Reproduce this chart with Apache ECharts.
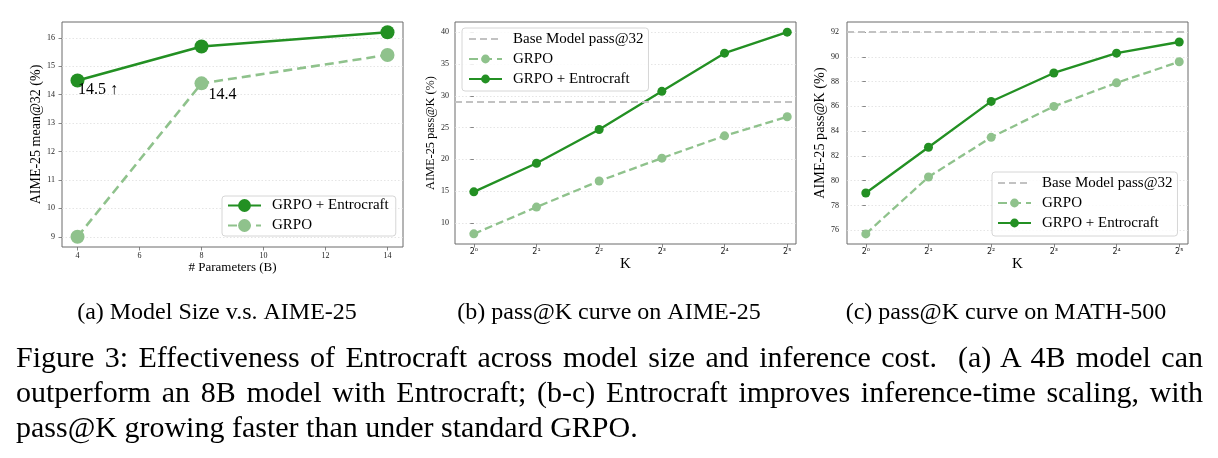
<!DOCTYPE html>
<html>
<head>
<meta charset="utf-8">
<script src="https://cdn.jsdelivr.net/npm/echarts@6/dist/echarts.min.js"></script>
<style>
  html, body { margin: 0; padding: 0; background: #fff; }
  #wrap { position: relative; width: 1218px; height: 458px; overflow: hidden; }
  #chart { position: absolute; left: 0; top: 0; width: 1218px; height: 458px; }
  .cap {
    position: absolute;
    left: 16px;
    width: 1187px;
    font-family: 'Liberation Serif', 'Times New Roman', serif;
    font-size: 30px;
    line-height: 35px;
    color: #000;
  }
  .just { text-align: justify; text-align-last: justify; }
</style>
</head>
<body>
<div id="wrap">
  <div id="chart"></div>
  <div class="cap just" style="top:339px">Figure 3: Effectiveness of Entrocraft across model size and inference cost.&nbsp; (a) A 4B model can</div>
  <div class="cap just" style="top:374px">outperform an 8B model with Entrocraft; (b-c) Entrocraft improves inference-time scaling, with</div>
  <div class="cap" style="top:409px">pass@K growing faster than under standard GRPO.</div>
</div>
<script>
// (a) 模型规模
const paramSizes = [4, 8, 14];
const sizeEntrocraft = [14.5, 15.7, 16.2];
const sizeGrpo = [9.0, 14.4, 15.4];
const sizeEntrocraftNotes = ['14.5 ↑', '', ''];
const sizeGrpoNotes = ['', '14.4', ''];
const sizeXTicks = [4, 6, 8, 10, 12, 14];
const sizeYTicks = [9, 10, 11, 12, 13, 14, 15, 16];

// (b)(c) pass@K
const kExponents = [0, 1, 2, 3, 4, 5];
const kTickLabels = ['2⁰', '2¹', '2²', '2³', '2⁴', '2⁵'];
const aimeEntrocraft = [14.9, 19.4, 24.7, 30.7, 36.7, 40.0];
const aimeGrpo = [8.3, 12.5, 16.6, 20.2, 23.7, 26.7];
const aimeBase = 29.0;
const aimeYTicks = [10, 15, 20, 25, 30, 35, 40];
const mathEntrocraft = [79.0, 82.7, 86.4, 88.7, 90.3, 91.2];
const mathGrpo = [75.7, 80.3, 83.5, 86.0, 87.9, 89.6];
const mathBase = 92.0;
const mathYTicks = [76, 78, 80, 82, 84, 86, 88, 90, 92];

const subCaptions = ['(a) Model Size v.s. AIME-25', '(b) pass@K curve on AIME-25', '(c) pass@K curve on MATH-500'];

const DARK = '#239023';
const LIGHT = '#8fc28c';
const BASE = '#c2c2c2';
const SERIF = "'Liberation Serif', 'Times New Roman', serif";
const FRAME = '#6a6a6a';

const chart = echarts.init(document.getElementById('chart'));

function pairs(xs, ys, notes, labelPos) {
  return xs.map((x, i) => {
    const item = { value: [x, ys[i]] };
    if (notes && notes[i]) {
      item.label = {
        show: true,
        formatter: notes[i],
        position: labelPos,
        color: '#000',
        fontFamily: SERIF,
        fontSize: 16,
      };
    }
    return item;
  });
}

function yAxis(gridIndex, min, max, ticks, name, nameSize, nameGap, margin) {
  return {
    gridIndex,
    type: 'value',
    min,
    max,
    name,
    nameLocation: 'middle',
    nameGap,
    nameTextStyle: { color: '#000', fontFamily: SERIF, fontSize: nameSize },
    axisLine: { show: false },
    axisTick: { show: true, inside: false, length: 3.5, customValues: ticks, lineStyle: { color: FRAME, width: 0.8 } },
    axisLabel: { customValues: ticks, margin, color: '#222', fontFamily: SERIF, fontSize: 8 },
    splitLine: { show: true, lineStyle: { color: '#dedede', type: [1.5, 2], width: 0.8 } },
  };
}

function xAxis(gridIndex, min, max, ticks, name, nameSize, nameGap, labelOpt) {
  return {
    gridIndex,
    type: 'value',
    min,
    max,
    name,
    nameLocation: 'middle',
    nameGap,
    nameTextStyle: { color: '#000', fontFamily: SERIF, fontSize: nameSize },
    axisLine: { show: false },
    axisTick: { show: true, inside: false, length: 3.5, customValues: ticks, lineStyle: { color: FRAME, width: 0.8 } },
    axisLabel: Object.assign({ customValues: ticks, color: '#222' }, labelOpt),
    splitLine: { show: false },
  };
}

const kLabel = {
  margin: 4,
  fontFamily: "'DejaVu Sans', sans-serif",
  fontSize: 8,
  formatter: v => kTickLabels[kExponents.indexOf(v)],
};

function legend(left, top, names, itemHeight, padding) {
  return {
    orient: 'vertical',
    left,
    top,
    data: names,
    itemWidth: 33,
    itemHeight,
    itemGap: 5,
    padding,
    borderColor: '#d6d6d6',
    borderWidth: 1,
    borderRadius: 3,
    backgroundColor: 'rgba(255,255,255,0.85)',
    selectedMode: false,
    textStyle: { color: '#000', fontFamily: SERIF, fontSize: 15, padding: [0, 0, 0, 6] },
  };
}

function dataLine(name, color, dashed, width, size, xi, data) {
  return {
    name,
    type: 'line',
    xAxisIndex: xi,
    yAxisIndex: xi,
    data,
    symbol: 'circle',
    symbolSize: size,
    z: dashed ? 2 : 3,
    itemStyle: { color },
    lineStyle: { color, width, type: dashed ? [dashed[0], dashed[1]] : 'solid' },
  };
}

function baseLine(xi, value) {
  return {
    name: 'Base Model pass@32',
    type: 'line',
    xAxisIndex: xi,
    yAxisIndex: xi,
    data: [],
    symbol: 'none',
    itemStyle: { color: BASE },
    lineStyle: { color: BASE, width: 2, type: [7, 4] },
    markLine: {
      silent: true,
      symbol: ['none', 'none'],
      label: { show: false },
      lineStyle: { color: BASE, width: 2, type: [7, 4] },
      data: [{ yAxis: value }],
    },
  };
}

const baseLegendItem = { name: 'Base Model pass@32', itemStyle: { opacity: 0 } };

const option = {
  animation: false,
  backgroundColor: '#fff',
  grid: [
    { left: 62, top: 22, width: 341, height: 225, show: true, borderColor: FRAME, borderWidth: 1, backgroundColor: 'transparent', outerBoundsMode: 'none' },
    { left: 455, top: 22, width: 341, height: 222, show: true, borderColor: FRAME, borderWidth: 1, backgroundColor: 'transparent', outerBoundsMode: 'none' },
    { left: 847, top: 22, width: 341, height: 222, show: true, borderColor: FRAME, borderWidth: 1, backgroundColor: 'transparent', outerBoundsMode: 'none' },
  ],
  xAxis: [
    xAxis(0, 3.5, 14.5, sizeXTicks, '# Parameters (B)', 13, 14, { margin: 5, fontFamily: SERIF, fontSize: 8 }),
    xAxis(1, -0.3, 5.14, kExponents, 'K', 15, 13, kLabel),
    xAxis(2, -0.3, 5.14, kExponents, 'K', 15, 13, kLabel),
  ],
  yAxis: [
    yAxis(0, 8.64, 16.56, sizeYTicks, 'AIME-25 mean@32 (%)', 14, 19, 7),
    yAxis(1, 6.7, 41.6, aimeYTicks, 'AIME-25 pass@K (%)', 12.3, 15, 6),
    yAxis(2, 74.885, 92.815, mathYTicks, 'AIME-25 pass@K (%)', 14.2, 17, 8),
  ],
  legend: [
    legend(222, 196, ['GRPO + Entrocraft', 'GRPO'], 16, [2, 7, 3, 5]),
    legend(462, 28, [baseLegendItem, 'GRPO', 'GRPO + Entrocraft'], 11, [3.5, 5, 4.5, 6]),
    legend(992, 172, [baseLegendItem, 'GRPO', 'GRPO + Entrocraft'], 11, [3.5, 5, 5.5, 5]),
  ],
  series: [
    dataLine('GRPO + Entrocraft', DARK, null, 2.6, 14, 0, pairs(paramSizes, sizeEntrocraft, sizeEntrocraftNotes, [7.5, 8])),
    dataLine('GRPO', LIGHT, [9, 5], 2.6, 14, 0, pairs(paramSizes, sizeGrpo, sizeGrpoNotes, [14, 10])),
    baseLine(1, aimeBase),
    dataLine('GRPO', LIGHT, [8, 4], 2.3, 9, 1, pairs(kExponents, aimeGrpo)),
    dataLine('GRPO + Entrocraft', DARK, null, 2.3, 9, 1, pairs(kExponents, aimeEntrocraft)),
    baseLine(2, mathBase),
    dataLine('GRPO', LIGHT, [8, 4], 2.3, 9, 2, pairs(kExponents, mathGrpo)),
    dataLine('GRPO + Entrocraft', DARK, null, 2.3, 9, 2, pairs(kExponents, mathEntrocraft)),
  ],
  graphic: subCaptions.map((text, i) => ({
    type: 'text',
    x: [217, 609, 1006][i],
    y: 313,
    style: {
      text,
      fill: '#000',
      font: '24px ' + SERIF,
      textAlign: 'center',
      textVerticalAlign: 'middle',
    },
  })),
};

chart.setOption(option);
window.addEventListener('resize', () => {
  chart.resize();
});
</script>
</body>
</html>
